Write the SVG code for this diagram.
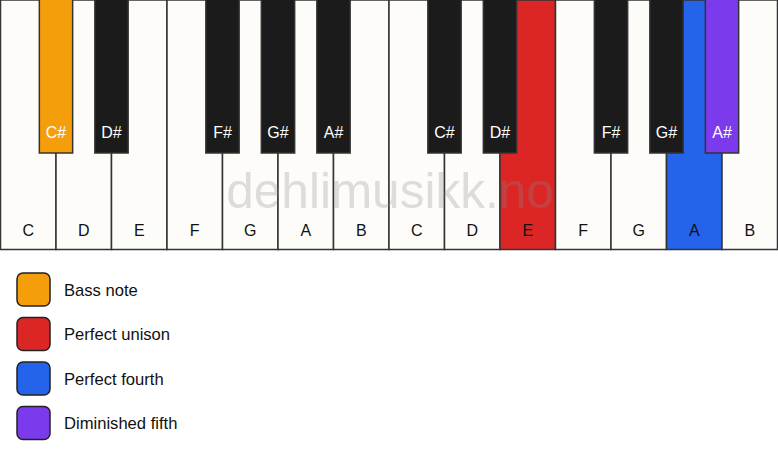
<svg xmlns="http://www.w3.org/2000/svg" width="778" height="461" viewBox="0 0 778 461">
<style>
.w{fill:#fdfcf9;stroke:#333;stroke-width:1.5}
.b{fill:#1b1b1b;stroke:#333;stroke-width:1.5}
.o{fill:#f59e0b}
.r{fill:#dc2626}
.bl{fill:#2563eb}
.p{fill:#7c3aed}
.lw{font-family:"Liberation Sans",Arial,sans-serif;font-size:16px;fill:#111;text-anchor:middle}
.lb{font-family:"Liberation Sans",Arial,sans-serif;font-size:16px;fill:#fff;text-anchor:middle}
.sq{stroke:#222;stroke-width:1.5}
.lt{font-family:"Liberation Sans",Arial,sans-serif;font-size:16.6px;fill:#111}
.wm{font-family:"Liberation Sans",Arial,sans-serif;font-size:49.5px;fill:#888;opacity:0.27;text-anchor:middle}
</style>
<rect width="778" height="461" fill="#ffffff"/>
<g id="white-keys">
<g id="key-C1"><rect class="w" x="0.5" y="0" width="55.5" height="249.5"/><text class="lw" x="28.25" y="236">C</text></g>
<g id="key-D1"><rect class="w" x="56" y="0" width="55.5" height="249.5"/><text class="lw" x="83.75" y="236">D</text></g>
<g id="key-E1"><rect class="w" x="111.5" y="0" width="55.5" height="249.5"/><text class="lw" x="139.25" y="236">E</text></g>
<g id="key-F1"><rect class="w" x="167" y="0" width="55.5" height="249.5"/><text class="lw" x="194.75" y="236">F</text></g>
<g id="key-G1"><rect class="w" x="222.5" y="0" width="55.5" height="249.5"/><text class="lw" x="250.25" y="236">G</text></g>
<g id="key-A1"><rect class="w" x="278" y="0" width="55.5" height="249.5"/><text class="lw" x="305.75" y="236">A</text></g>
<g id="key-B1"><rect class="w" x="333.5" y="0" width="55.5" height="249.5"/><text class="lw" x="361.25" y="236">B</text></g>
<g id="key-C2"><rect class="w" x="389" y="0" width="55.5" height="249.5"/><text class="lw" x="416.75" y="236">C</text></g>
<g id="key-D2"><rect class="w" x="444.5" y="0" width="55.5" height="249.5"/><text class="lw" x="472.25" y="236">D</text></g>
<g id="key-E2"><rect class="w r" x="500" y="0" width="55.5" height="249.5"/><text class="lw" x="527.75" y="236">E</text></g>
<g id="key-F2"><rect class="w" x="555.5" y="0" width="55.5" height="249.5"/><text class="lw" x="583.25" y="236">F</text></g>
<g id="key-G2"><rect class="w" x="611" y="0" width="55.5" height="249.5"/><text class="lw" x="638.75" y="236">G</text></g>
<g id="key-A2"><rect class="w bl" x="666.5" y="0" width="55.5" height="249.5"/><text class="lw" x="694.25" y="236">A</text></g>
<g id="key-B2"><rect class="w" x="722" y="0" width="55.5" height="249.5"/><text class="lw" x="749.75" y="236">B</text></g>
</g>
<g id="black-keys">
<g id="key-Cs1"><rect class="b o" x="39.35" y="-1" width="33.3" height="154"/><text class="lb" x="56" y="138">C#</text></g>
<g id="key-Ds1"><rect class="b" x="94.85" y="-1" width="33.3" height="154"/><text class="lb" x="111.5" y="138">D#</text></g>
<g id="key-Fs1"><rect class="b" x="205.85" y="-1" width="33.3" height="154"/><text class="lb" x="222.5" y="138">F#</text></g>
<g id="key-Gs1"><rect class="b" x="261.35" y="-1" width="33.3" height="154"/><text class="lb" x="278" y="138">G#</text></g>
<g id="key-As1"><rect class="b" x="316.85" y="-1" width="33.3" height="154"/><text class="lb" x="333.5" y="138">A#</text></g>
<g id="key-Cs2"><rect class="b" x="427.85" y="-1" width="33.3" height="154"/><text class="lb" x="444.5" y="138">C#</text></g>
<g id="key-Ds2"><rect class="b" x="483.35" y="-1" width="33.3" height="154"/><text class="lb" x="500" y="138">D#</text></g>
<g id="key-Fs2"><rect class="b" x="594.35" y="-1" width="33.3" height="154"/><text class="lb" x="611" y="138">F#</text></g>
<g id="key-Gs2"><rect class="b" x="649.85" y="-1" width="33.3" height="154"/><text class="lb" x="666.5" y="138">G#</text></g>
<g id="key-As2"><rect class="b p" x="705.35" y="-1" width="33.3" height="154"/><text class="lb" x="722" y="138">A#</text></g>
</g>
<text class="wm" x="390" y="208">dehlimusikk.no</text>
<g id="connectors"></g>
<g id="legend">
<g id="legend-bass"><rect class="sq o" x="17" y="273" width="33" height="33" rx="6"/><text class="lt" x="64" y="295.5">Bass note</text></g>
<g id="legend-unison"><rect class="sq r" x="17" y="317.5" width="33" height="33" rx="6"/><text class="lt" x="64" y="340">Perfect unison</text></g>
<g id="legend-fourth"><rect class="sq bl" x="17" y="362" width="33" height="33" rx="6"/><text class="lt" x="64" y="384.5">Perfect fourth</text></g>
<g id="legend-dim5"><rect class="sq p" x="17" y="406.5" width="33" height="33" rx="6"/><text class="lt" x="64" y="429">Diminished fifth</text></g>
</g>
</svg>
